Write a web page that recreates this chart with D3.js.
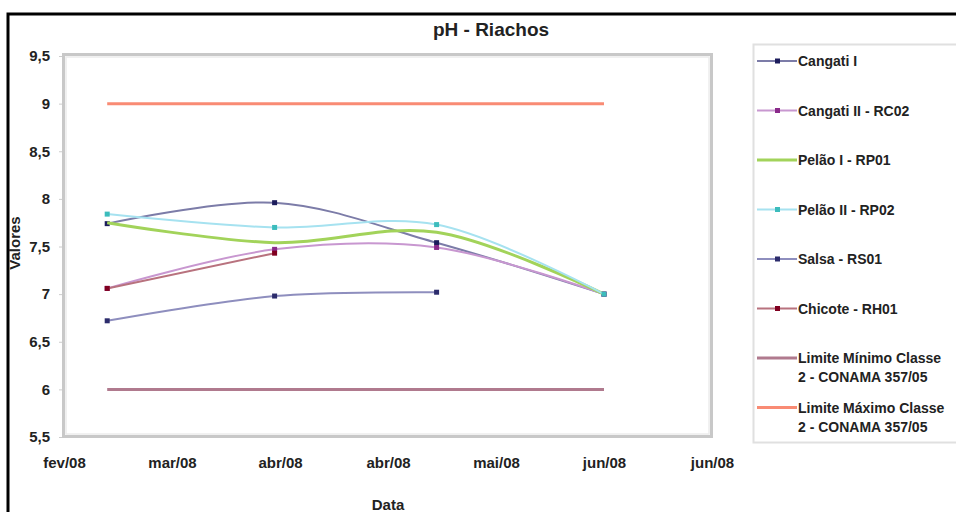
<!DOCTYPE html>
<html><head><meta charset="utf-8">
<script src="https://cdn.jsdelivr.net/npm/d3@7"></script>
<style>body{margin:0;background:#fff}svg{display:block;font-family:"Liberation Sans",Arial,sans-serif}</style>
</head><body><svg id="c" width="956" height="512"></svg>
<script>
// ---- data ----
const sampleDates = ["2008-03-03", "2008-04-03", "2008-05-03", "2008-06-03"];
const cangatiI   = [7.74, 7.96, 7.54, 7.0];
const cangatiII  = [7.06, 7.47, 7.49, 7.0];
const pelaoI     = [7.75, 7.54, 7.65, 7.0];
const pelaoII    = [7.84, 7.70, 7.73, 7.0];
const salsa      = [6.72, 6.98, 7.02, null];
const chicote    = [7.06, 7.43, null, null];
const limiteMin  = [6, 6, 6, 6];
const limiteMax  = [9, 9, 9, 9];
const seriesNames = ["Cangati I", "Cangati II - RC02", "Pelão I - RP01", "Pelão II - RP02",
  "Salsa - RS01", "Chicote - RH01", "Limite Mínimo Classe|2 - CONAMA 357/05", "Limite Máximo Classe|2 - CONAMA 357/05"];
const yTickValues = [5.5, 6, 6.5, 7, 7.5, 8, 8.5, 9, 9.5];
const yTickLabels = ["5,5", "6", "6,5", "7", "7,5", "8", "8,5", "9", "9,5"];
const xTickLabels = ["fev/08", "mar/08", "abr/08", "abr/08", "mai/08", "jun/08", "jun/08"];
const axisStart = "2008-02-24";
const tickStepDays = 20;
const titleText = "pH - Riachos";
const xTitle = "Data", yTitle = "Valores";

// ---- styles ----
const styles = [
  {line: "#7c7ca8", mark: "#1c1c5c", w: 2, m: true},
  {line: "#c897d0", mark: "#8a2a8a", w: 2, m: true},
  {line: "#a2d35a", mark: null, w: 3, m: false},
  {line: "#a6e2f0", mark: "#3cbcbc", w: 2, m: true},
  {line: "#8e8ebe", mark: "#2c2c6c", w: 2, m: true},
  {line: "#b8727e", mark: "#800020", w: 2, m: true},
  {line: "#b07a8e", mark: null, w: 3, m: false},
  {line: "#f98b74", mark: null, w: 3, m: false}
];
const allSeries = [cangatiI, cangatiII, pelaoI, pelaoII, salsa, chicote, limiteMin, limiteMax];

const svg = d3.select("#c");
const parse = d3.utcParse("%Y-%m-%d");
const d0 = parse(axisStart);
const tickDates = xTickLabels.map((_, i) => d3.utcDay.offset(d0, i * tickStepDays));
const x = d3.scaleUtc().domain([tickDates[0], tickDates[tickDates.length - 1]]).range([64, 712]);
const y = d3.scaleLinear().domain([5.5, 9.5]).range([437, 56]);

// outer frame
svg.append("rect").attr("x", 8).attr("y", 14).attr("width", 960).attr("height", 520)
  .attr("fill", "#fff").attr("stroke", "#000").attr("stroke-width", 3);

// title
svg.append("text").attr("x", 491).attr("y", 36).attr("text-anchor", "middle")
  .attr("font-size", 19).attr("font-weight", "bold").attr("fill", "#222").text(titleText);

// plot area frame
svg.append("rect").attr("x", 63.5).attr("y", 54.5).attr("width", 648).attr("height", 382)
  .attr("fill", "#fff").attr("stroke", "#c8c8c8").attr("stroke-width", 3);
svg.append("rect").attr("x", 66).attr("y", 57).attr("width", 643).attr("height", 377)
  .attr("fill", "none").attr("stroke", "#ececec").attr("stroke-width", 1.5);

// y axis
const yAxis = d3.axisLeft(y).tickValues(yTickValues).tickSize(3)
  .tickFormat((d, i) => yTickLabels[i]);
const ya = svg.append("g").attr("transform", "translate(62,0)").call(yAxis);
ya.select(".domain").remove();
ya.selectAll("line").attr("stroke", "#ccc");
ya.selectAll("text").attr("x", -12).attr("font-size", 15).attr("font-weight", "bold")
  .attr("fill", "#222").attr("font-family", "Liberation Sans, Arial, sans-serif");

// x axis
const xAxis = d3.axisBottom(x).tickValues(tickDates).tickSize(0)
  .tickFormat((d, i) => xTickLabels[i]);
const xa = svg.append("g").attr("transform", "translate(0,437)").call(xAxis);
xa.select(".domain").remove();
xa.selectAll("text").attr("y", 20).attr("dy", "0.71em").attr("font-size", 15).attr("font-weight", "bold")
  .attr("fill", "#222").attr("font-family", "Liberation Sans, Arial, sans-serif");

// axis titles
svg.append("text").attr("x", 388).attr("y", 510).attr("text-anchor", "middle")
  .attr("font-size", 15).attr("font-weight", "bold").attr("fill", "#222").text(xTitle);
svg.append("text").attr("transform", "translate(20,243) rotate(-90)").attr("text-anchor", "middle")
  .attr("font-size", 15).attr("font-weight", "bold").attr("fill", "#222").text(yTitle);

// series
const dates = sampleDates.map(parse);
const line = d3.line().defined(d => d.v != null).x(d => x(d.d)).y(d => y(d.v))
  .curve(d3.curveCatmullRom.alpha(0.5));
const g = svg.append("g");
allSeries.forEach((vals, si) => {
  const st = styles[si];
  const pts = vals.map((v, i) => ({d: dates[i], v}));
  g.append("path").attr("d", line(pts)).attr("fill", "none").attr("stroke", st.line)
    .attr("stroke-width", st.w).attr("stroke-linejoin", "round");
  if (st.m) {
    g.selectAll(null).data(pts.filter(p => p.v != null)).enter().append("rect")
      .attr("x", p => x(p.d) - 2.5).attr("y", p => y(p.v) - 2.5)
      .attr("width", 5).attr("height", 5).attr("fill", st.mark);
  }
});

// legend
svg.append("rect").attr("x", 753.5).attr("y", 44.5).attr("width", 240).attr("height", 398)
  .attr("fill", "none").attr("stroke", "#e0e0e0").attr("stroke-width", 2);
const lg = svg.append("g");
seriesNames.forEach((name, i) => {
  const st = styles[i];
  const ly = 61 + i * 49.5;
  lg.append("line").attr("x1", 757).attr("x2", 797).attr("y1", ly).attr("y2", ly)
    .attr("stroke", st.line).attr("stroke-width", st.w);
  if (st.m) lg.append("rect").attr("x", 775).attr("y", ly - 2.5).attr("width", 5).attr("height", 5).attr("fill", st.mark);
  const parts = name.split("|");
  parts.forEach((p, k) => {
    lg.append("text").attr("x", 798).attr("y", ly + 5 + k * 19).attr("font-size", 14)
      .attr("font-weight", "bold").attr("fill", "#222").text(p);
  });
});
</script></body></html>
